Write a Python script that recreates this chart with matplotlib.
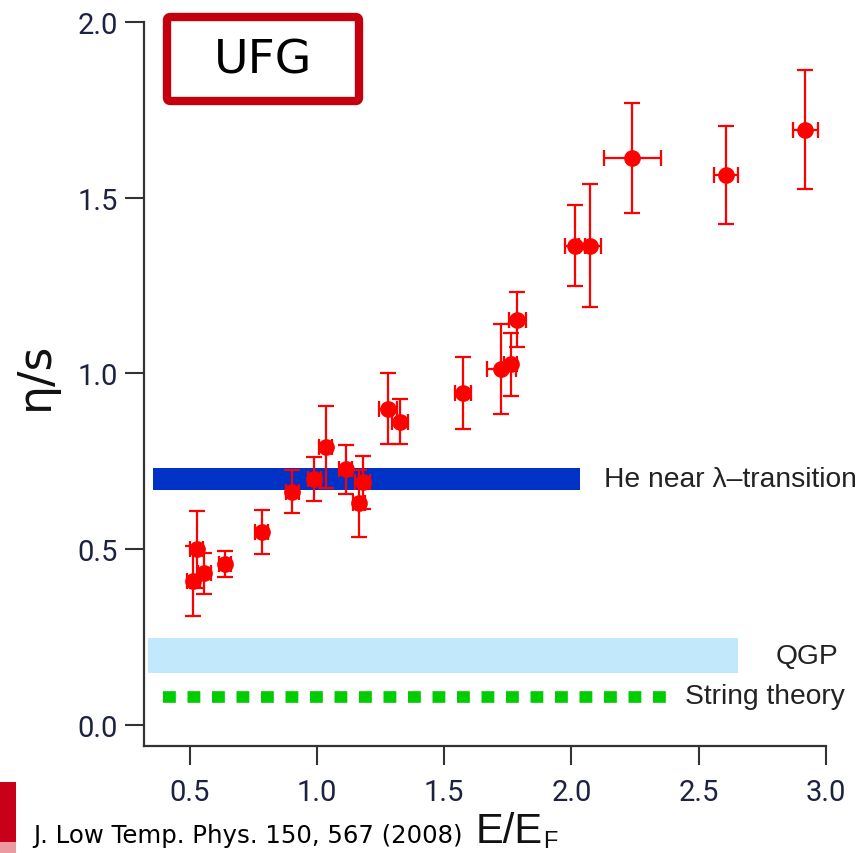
import numpy as np
import matplotlib.pyplot as plt
import matplotlib.patches as mpatches

# eta/s of the unitary Fermi gas vs. energy
e_ef = [0.514, 0.527, 0.557, 0.639, 0.783, 0.903, 0.989, 1.035, 1.113, 1.165, 1.180,
        1.278, 1.326, 1.575, 1.725, 1.762, 1.788, 2.013, 2.072, 2.240, 2.607, 2.919]
eta_s = [0.409, 0.500, 0.431, 0.458, 0.548, 0.664, 0.699, 0.790, 0.727, 0.630, 0.690,
         0.900, 0.863, 0.944, 1.012, 1.026, 1.152, 1.363, 1.363, 1.612, 1.564, 1.693]
eta_err = [0.099, 0.109, 0.058, 0.036, 0.062, 0.060, 0.062, 0.117, 0.069, 0.094, 0.075,
           0.102, 0.064, 0.103, 0.129, 0.089, 0.078, 0.116, 0.175, 0.156, 0.140, 0.169]
e_err = [0.025, 0.025, 0.025, 0.025, 0.025, 0.025, 0.025, 0.025, 0.025, 0.025, 0.030,
         0.035, 0.031, 0.031, 0.056, 0.026, 0.033, 0.039, 0.043, 0.113, 0.047, 0.049]

# reference bands: (x0, x1, y0, y1)
he_band = (0.355, 2.033, 0.668, 0.731)
qgp_band = (0.335, 2.655, 0.148, 0.247)
string_x = (0.396, 2.392)
string_val = 1 / (4 * np.pi)

tick_col = '#1c2340'
fig = plt.figure(figsize=(8.63, 8.54), dpi=100)
ax = fig.add_axes([0.1669, 0.1256, 0.957 - 0.1669, 0.9734 - 0.1256])

ax.add_patch(mpatches.Rectangle((he_band[0], he_band[2]), he_band[1] - he_band[0],
                                he_band[3] - he_band[2], color='#0032c8', lw=0))
ax.add_patch(mpatches.Rectangle((qgp_band[0], qgp_band[2]), qgp_band[1] - qgp_band[0],
                                qgp_band[3] - qgp_band[2], color='#c2e8fc', lw=0))
ax.plot(string_x, [string_val, string_val], color='#00cc00', lw=8.4,
        dashes=(1.1, 1.0), solid_capstyle='butt', dash_capstyle='butt')

ax.errorbar(e_ef, eta_s, yerr=eta_err, xerr=e_err, fmt='o', color='red',
            ms=11, elinewidth=1.6, capsize=6, capthick=1.6, zorder=5)

lab_kw = dict(fontsize=20.3, family='Liberation Sans', color='#222222', va='center',
              clip_on=False)
ax.text(0.5 + (604 - 189.7) / 254.6, he_band[2] + 0.031, u'He near \u03bb\u2013transition',
        **lab_kw)
ax.text(0.5 + (839 - 189.7) / 254.6, 0.197, 'QGP', ha='right', **lab_kw)
ax.text(0.5 + (685 - 189.7) / 254.6, string_val + 0.003, 'String theory', **lab_kw)

ax.set_xlim(0.3205, 3.0)
ax.set_ylim(-0.059, 2.0)
ax.set_xticks([0.5, 1.0, 1.5, 2.0, 2.5, 3.0])
ax.set_yticks([0.0, 0.5, 1.0, 1.5, 2.0])
ax.set_xticklabels(['0.5', '1.0', '1.5', '2.0', '2.5', '3.0'])
ax.set_yticklabels(['0.0', '0.5', '1.0', '1.5', '2.0'])
for lab in ax.get_xticklabels() + ax.get_yticklabels():
    lab.set_family('Roboto')
    lab.set_fontsize(21)
    lab.set_color(tick_col)
ax.tick_params(direction='out', length=14, width=1.5, color='#333333')
ax.tick_params(axis='x', pad=9)
ax.tick_params(axis='y', pad=5)
for s in ['top', 'right']:
    ax.spines[s].set_visible(False)
for s in ['left', 'bottom']:
    ax.spines[s].set_linewidth(1.6)
    ax.spines[s].set_color('#333333')

# axis titles
fig.text(35 / 863, 1 - 376 / 854, u'\u03b7/s', rotation=90, fontsize=33,
         family='DejaVu Sans', color='#111111', ha='center', va='center')
fig.text(476 / 863, 1 - 843 / 854, 'E/E', fontsize=30,
         family='Liberation Sans', color='#111111', ha='left', va='baseline')
fig.text(543 / 863, 1 - 848 / 854, 'F', fontsize=17,
         family='Liberation Sans', color='#111111', ha='left', va='baseline')
fig.text(33 / 863, 1 - 842.7 / 854, 'J. Low Temp. Phys. 150, 567 (2008)', fontsize=17.6,
         family='DejaVu Sans', color='black', ha='left', va='baseline')

# UFG tag
fig.patches.append(mpatches.FancyBboxPatch((167 / 863, 1 - 102 / 854), 192 / 863, 84 / 854,
                                           boxstyle='round,pad=0,rounding_size=0.004',
                                           transform=fig.transFigure, fill=False,
                                           ec='#c4000f', lw=6))
fig.text(263 / 863, 1 - 61 / 854, 'UFG', fontsize=34, family='DejaVu Sans',
         ha='center', va='center', color='black')

# red strip at bottom left
fig.patches.append(mpatches.Rectangle((0, 1 - 843 / 854), 16 / 863, 60 / 854,
                                      transform=fig.transFigure, color='#c8001a', lw=0))
fig.patches.append(mpatches.Rectangle((0, 0), 16 / 863, 11 / 854,
                                      transform=fig.transFigure, color='#eb9aa2', lw=0))

fig.savefig('out.png', dpi=100)
